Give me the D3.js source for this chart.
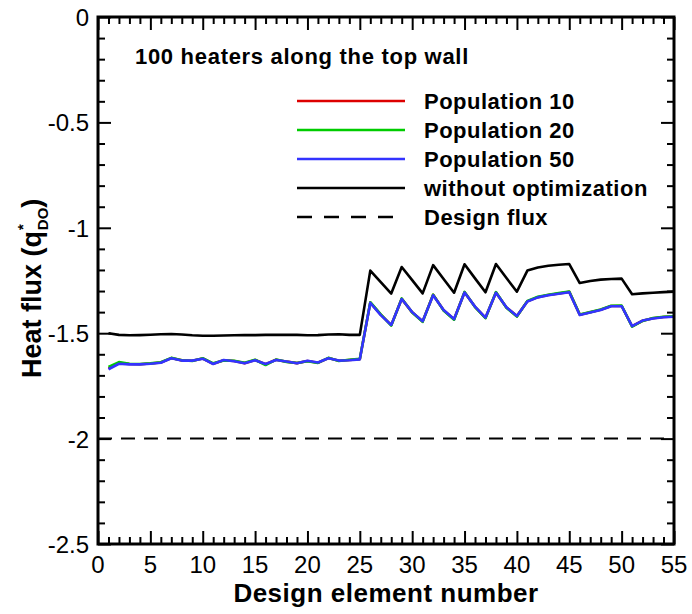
<!DOCTYPE html>
<html><head><meta charset="utf-8">
<script src="https://cdn.jsdelivr.net/npm/d3@7"></script>
<style>body{margin:0;background:#fff}svg{display:block}text{font-family:"Liberation Sans",Arial,sans-serif}</style>
</head><body>
<script>
const elements = d3.range(1, 56);
const pop50 = [-1.671,-1.645,-1.648,-1.648,-1.645,-1.640,-1.619,-1.630,-1.630,-1.621,-1.646,-1.627,-1.633,-1.643,-1.628,-1.646,-1.627,-1.634,-1.643,-1.631,-1.639,-1.619,-1.630,-1.628,-1.624,
 -1.356,-1.414,-1.461,-1.338,-1.400,-1.443,-1.320,-1.390,-1.433,-1.307,-1.374,-1.426,-1.308,-1.377,-1.418,
 -1.350,-1.330,-1.320,-1.313,-1.306,-1.414,-1.402,-1.390,-1.372,-1.372,-1.466,-1.440,-1.430,-1.424,-1.422];
const pop20 = [-1.660,-1.637,-1.645,-1.646,-1.643,-1.638,-1.617,-1.628,-1.632,-1.619,-1.643,-1.630,-1.631,-1.640,-1.626,-1.651,-1.625,-1.636,-1.641,-1.633,-1.641,-1.617,-1.632,-1.626,-1.622,
 -1.353,-1.411,-1.464,-1.335,-1.402,-1.446,-1.317,-1.392,-1.436,-1.304,-1.376,-1.429,-1.305,-1.379,-1.421,
 -1.347,-1.327,-1.318,-1.310,-1.302,-1.411,-1.400,-1.388,-1.370,-1.369,-1.469,-1.442,-1.428,-1.422,-1.420];
const pop10 = [-1.668,-1.642,-1.646,-1.647,-1.644,-1.639,-1.618,-1.629,-1.631,-1.620,-1.645,-1.628,-1.632,-1.642,-1.627,-1.647,-1.626,-1.635,-1.642,-1.632,-1.640,-1.618,-1.631,-1.627,-1.623,
 -1.355,-1.412,-1.462,-1.337,-1.401,-1.444,-1.318,-1.391,-1.434,-1.306,-1.375,-1.427,-1.307,-1.378,-1.419,
 -1.349,-1.329,-1.319,-1.312,-1.304,-1.412,-1.401,-1.389,-1.371,-1.371,-1.467,-1.441,-1.429,-1.423,-1.421];
const noOpt = [-1.500,-1.508,-1.510,-1.509,-1.507,-1.505,-1.504,-1.506,-1.510,-1.512,-1.512,-1.511,-1.510,-1.509,-1.509,-1.508,-1.508,-1.507,-1.508,-1.510,-1.509,-1.506,-1.505,-1.508,-1.508,
 -1.203,-1.258,-1.312,-1.186,-1.248,-1.311,-1.177,-1.243,-1.308,-1.173,-1.240,-1.306,-1.172,-1.238,-1.303,
 -1.203,-1.188,-1.180,-1.175,-1.172,-1.262,-1.252,-1.246,-1.243,-1.241,-1.315,-1.311,-1.308,-1.305,-1.303];
const designFluxX = [0, 55];
const designFlux = [-2, -2];
const xTicks = [0,5,10,15,20,25,30,35,40,45,50,55];
const yTicks = [0,-0.5,-1,-1.5,-2,-2.5];
const legendLabels = ["Population 10","Population 20","Population 50","without optimization","Design flux"];
const title = "100 heaters along the top wall";

const W = 692, H = 614;
const svg = d3.select("body").append("svg").attr("width", W).attr("height", H);
const x = d3.scaleLinear().domain([0,55]).range([98,674]);
const y = d3.scaleLinear().domain([-2.5,0]).range([544,17]);

const series = [
  {vals: pop10, color:"#dd0000"},
  {vals: pop20, color:"#00cc00"},
  {vals: pop50, color:"#3333ff"},
  {vals: noOpt, color:"#000000"}
];
const line = d3.line().x(d=>x(d[0])).y(d=>y(d[1]));
const g = svg.append("g");
g.append("path").datum(designFluxX.map((v,i)=>[v,designFlux[i]])).attr("d", line)
  .attr("fill","none").attr("stroke","#000").attr("stroke-width",2).attr("stroke-dasharray","14,9");
series.forEach(s=>{
  g.append("path").datum(elements.map((e,i)=>[e,s.vals[i]])).attr("d", line)
    .attr("fill","none").attr("stroke",s.color).attr("stroke-width",2.6).attr("stroke-linejoin","round");
});

function addAxis(axis, transform){
  const a = svg.append("g").attr("transform", transform).call(axis);
  a.select(".domain").remove();
  a.selectAll("line").attr("stroke","#000").attr("stroke-width",2);
  return a;
}
const xMinor = d3.range(0,56,1).filter(v=>v%5!==0);
const yMinor = d3.range(0,26).map(i=>-i/10).filter((v,i)=>i%5!==0);
addAxis(d3.axisTop(x).tickValues(xTicks).tickSize(13).tickFormat(""), `translate(0,${y(-2.5)})`);
addAxis(d3.axisTop(x).tickValues(xMinor).tickSize(7).tickFormat(""), `translate(0,${y(-2.5)})`);
addAxis(d3.axisBottom(x).tickValues(xTicks).tickSize(13).tickFormat(""), `translate(0,${y(0)})`);
addAxis(d3.axisBottom(x).tickValues(xMinor).tickSize(7).tickFormat(""), `translate(0,${y(0)})`);
addAxis(d3.axisRight(y).tickValues(yTicks).tickSize(13).tickFormat(""), `translate(${x(0)},0)`);
addAxis(d3.axisRight(y).tickValues(yMinor).tickSize(7).tickFormat(""), `translate(${x(0)},0)`);
addAxis(d3.axisLeft(y).tickValues(yTicks).tickSize(13).tickFormat(""), `translate(${x(55)},0)`);
addAxis(d3.axisLeft(y).tickValues(yMinor).tickSize(7).tickFormat(""), `translate(${x(55)},0)`);
svg.append("rect").attr("x",x(0)).attr("y",y(0)).attr("width",x(55)-x(0)).attr("height",y(-2.5)-y(0))
  .attr("fill","none").attr("stroke","#000").attr("stroke-width",3);

svg.append("g").selectAll("text").data(xTicks).join("text")
  .attr("x",d=>x(d)).attr("y",y(-2.5)+29).attr("text-anchor","middle")
  .attr("font-size",24).text(d=>d);
svg.append("g").selectAll("text").data(yTicks).join("text")
  .attr("x",x(0)-9).attr("y",d=>y(d)+9).attr("text-anchor","end")
  .attr("font-size",24).text(d=>String(d));

svg.append("text").attr("x",(x(0)+x(55))/2).attr("y",602).attr("text-anchor","middle")
  .attr("font-size",26).attr("font-weight","bold").attr("letter-spacing",0.5).text("Design element number");
const yt = svg.append("text").attr("transform","translate(41,378) rotate(-90)").attr("text-anchor","start")
  .attr("font-size",27).attr("font-weight","bold");
yt.append("tspan").text("Heat flux (q");
yt.append("tspan").attr("font-size",15).attr("dy",-13).attr("dx",1).text("*");
yt.append("tspan").attr("font-size",15).attr("dx",-6).attr("dy",20).text("DO");
yt.append("tspan").attr("dy",-7).text(")");

svg.append("text").attr("x",135).attr("y",64).attr("font-size",22).attr("font-weight","bold")
  .attr("letter-spacing",0.7).text(title);

const legY = [101, 130, 159, 188, 217];
const legColors = ["#dd0000","#00cc00","#3333ff","#000000","#000000"];
const leg = svg.append("g");
legendLabels.forEach((lab,i)=>{
  leg.append("line").attr("x1",297).attr("x2",405).attr("y1",legY[i]).attr("y2",legY[i])
    .attr("stroke",legColors[i]).attr("stroke-width",2.6)
    .attr("stroke-dasharray", i===4?"15,12":null);
  leg.append("text").attr("x",424).attr("y",legY[i]+8).attr("font-size",22).attr("font-weight","bold")
    .attr("letter-spacing",0.5).text(lab);
});
</script>
</body></html>
